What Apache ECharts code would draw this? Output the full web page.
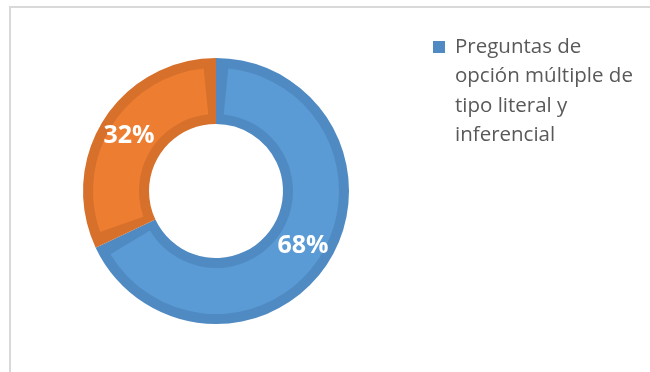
<!DOCTYPE html>
<html>
<head>
<meta charset="utf-8">
<script src="https://cdn.jsdelivr.net/npm/echarts@6/dist/echarts.min.js"></script>
<style>
  html, body { margin: 0; padding: 0; background: #ffffff; }
  #chart { width: 650px; height: 372px; }
</style>
</head>
<body>
<div id="chart"></div>
<script>
// Question types and their share of the total
const legendLines = ['Preguntas de', 'opción múltiple de', 'tipo literal y', 'inferencial'];
const categories = [legendLines.join(' '), 'Otras preguntas'];
const values = [68, 32];

const fillColors = ['#5B9BD5', '#ED7D31'];
const edgeColors = ['#4F8AC3', '#D6702B'];

const chart = echarts.init(document.getElementById('chart'), null, { renderer: 'canvas' });

const ring = (colors) => categories.map((name, i) => ({
  name: name,
  value: values[i],
  itemStyle: { color: colors[i] }
}));

// legend marker: small square at the top of a box as tall as the wrapped text
const LEGEND_LINE = 29.5;
const legendBoxH = LEGEND_LINE * legendLines.length;
const legendIcon = 'path://M0,9L12,9L12,21L0,21Z M0,0 M17,' + legendBoxH;

chart.setOption({
  animation: false,
  backgroundColor: '#ffffff',
  graphic: [{
    type: 'rect',
    shape: { x: 10, y: 7, width: 700, height: 420 },
    style: { fill: 'none', stroke: '#D9D9D9', lineWidth: 2 },
    silent: true,
    z: -10
  }],
  legend: {
    data: [categories[0]],
    left: 428,
    top: 27,
    itemWidth: 17,
    itemHeight: legendBoxH,
    icon: legendIcon,
    itemStyle: { borderWidth: 0 },
    selectedMode: false,
    formatter: () => legendLines.join('\n'),
    textStyle: {
      fontFamily: 'Open Sans',
      fontSize: 20.5,
      lineHeight: LEGEND_LINE,
      color: '#595959'
    }
  },
  series: [
    {
      // darker outline band of each slice
      type: 'pie',
      center: [216, 191],
      radius: [67, 133],
      startAngle: 90,
      clockwise: true,
      silent: true,
      label: { show: false },
      labelLine: { show: false },
      data: ring(edgeColors)
    },
    {
      // slice fill, inset inside the outline band
      type: 'pie',
      center: [216, 191],
      radius: [77, 123],
      startAngle: 90,
      clockwise: true,
      padAngle: 11.5,
      silent: true,
      labelLine: { show: false },
      label: {
        show: true,
        position: 'inside',
        formatter: '{c}%',
        color: '#ffffff',
        fontFamily: 'Open Sans',
        fontWeight: 'bold',
        fontSize: 25
      },
      data: ring(fillColors)
    }
  ]
});
</script>
</body>
</html>
